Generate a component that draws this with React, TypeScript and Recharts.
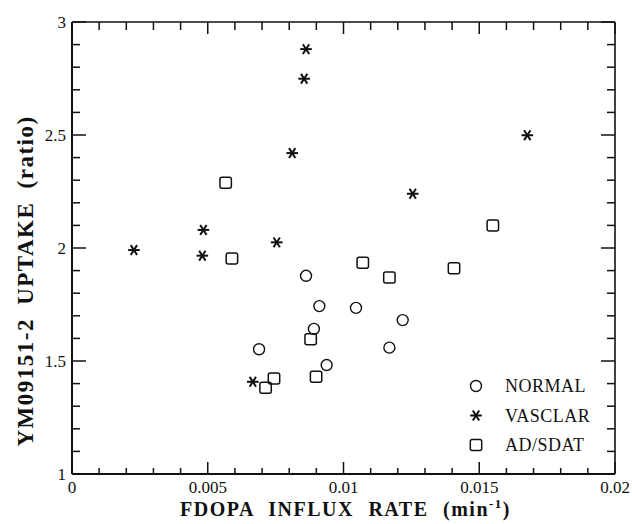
import React from "react";
import { ScatterChart, Scatter, XAxis, YAxis, Legend } from "recharts";

const normalX = [0.00689, 0.00862, 0.00911, 0.00891, 0.00938, 0.01046, 0.01218, 0.01169];
const normalY = [1.552, 1.877, 1.743, 1.642, 1.482, 1.735, 1.681, 1.559];

const vascX = [0.00228, 0.00484, 0.0048, 0.00754, 0.00811, 0.00855, 0.00862, 0.01255, 0.01677, 0.00666];
const vascY = [1.991, 2.08, 1.966, 2.025, 2.42, 2.749, 2.88, 2.24, 2.499, 1.408];

const adX = [0.00566, 0.00589, 0.00713, 0.00744, 0.00879, 0.00899, 0.01071, 0.01169, 0.01407, 0.0155];
const adY = [2.289, 1.954, 1.382, 1.423, 1.596, 1.43, 1.935, 1.869, 1.91, 2.1];

const xDomain = [0, 0.02];
const yDomain = [1, 3];
const xTicks = [0, 0.001, 0.002, 0.003, 0.004, 0.005, 0.006, 0.007, 0.008, 0.009, 0.01, 0.011, 0.012, 0.013, 0.014, 0.015, 0.016, 0.017, 0.018, 0.019, 0.02];
const xTickLabels = ["0", "", "", "", "", "0.005", "", "", "", "", "0.01", "", "", "", "", "0.015", "", "", "", "", "0.02"];
const yTicks = [1, 1.1, 1.2, 1.3, 1.4, 1.5, 1.6, 1.7, 1.8, 1.9, 2, 2.1, 2.2, 2.3, 2.4, 2.5, 2.6, 2.7, 2.8, 2.9, 3];
const yTickLabels = ["1", "", "", "", "", "1.5", "", "", "", "", "2", "", "", "", "", "2.5", "", "", "", "", "3"];

const seriesNames = ["NORMAL", "VASCLAR", "AD/SDAT"];

const toPoints = (xs: number[], ys: number[]) => xs.map((x, i) => ({ x, y: ys[i] }));
const normalData = toPoints(normalX, normalY);
const vascData = toPoints(vascX, vascY);
const adData = toPoints(adX, adY);

const FONT = "'Liberation Serif', 'Times New Roman', Times, serif";
const INK = "#111";

const CircleMark = ({ cx, cy }: any) => (
  <circle cx={cx} cy={cy} r={5.5} fill="none" stroke={INK} strokeWidth={1.4} />
);
const SquareMark = ({ cx, cy }: any) => (
  <rect x={cx - 5.7} y={cy - 5.5} width={11.4} height={11} rx={2} fill="none" stroke={INK} strokeWidth={1.5} />
);
const StarMark = ({ cx, cy }: any) => {
  const a = 5.8;
  const dx = a * 0.55;
  const dy = a * 0.85;
  return (
    <g stroke={INK} strokeWidth={2} strokeLinecap="butt">
      <line x1={cx - a} y1={cy} x2={cx + a} y2={cy} />
      <line x1={cx - dx} y1={cy - dy} x2={cx + dx} y2={cy + dy} />
      <line x1={cx - dx} y1={cy + dy} x2={cx + dx} y2={cy - dy} />
    </g>
  );
};

const labelFor = (ticks: number[], labels: string[], v: number) => {
  const i = ticks.findIndex((t) => Math.abs(t - v) < 1e-9);
  return i >= 0 ? labels[i] : "";
};

const renderBottomTick = (p: any) => {
  const x = Number(p.x);
  const y = Number(p.y);
  const lab = labelFor(xTicks, xTickLabels, p.payload.value);
  const len = lab ? 12 : 6;
  return (
    <g key={`b${p.index}`}>
      <line x1={x} y1={y} x2={x} y2={y - len} stroke={INK} strokeWidth={1.5} />
      {lab && (
        <text x={x} y={y + 19} textAnchor="middle" fontFamily={FONT} fontSize={17} fill={INK}>
          {lab}
        </text>
      )}
    </g>
  );
};
const renderTopTick = (p: any) => {
  const x = Number(p.x);
  const y = Number(p.y);
  const len = labelFor(xTicks, xTickLabels, p.payload.value) ? 12 : 8;
  return <line key={`t${p.index}`} x1={x} y1={y} x2={x} y2={y + len} stroke={INK} strokeWidth={1.5} />;
};
const renderLeftTick = (p: any) => {
  const x = Number(p.x);
  const y = Number(p.y);
  const lab = labelFor(yTicks, yTickLabels, p.payload.value);
  const len = lab ? 14 : 8;
  return (
    <g key={`l${p.index}`}>
      <line x1={x} y1={y} x2={x + len} y2={y} stroke={INK} strokeWidth={1.5} />
      {lab && (
        <text x={x - 6} y={y} dy="0.35em" textAnchor="end" fontFamily={FONT} fontSize={17} fill={INK}>
          {lab}
        </text>
      )}
    </g>
  );
};
const renderRightTick = (p: any) => {
  const x = Number(p.x);
  const y = Number(p.y);
  const len = labelFor(yTicks, yTickLabels, p.payload.value) ? 14 : 8;
  return <line key={`r${p.index}`} x1={x} y1={y} x2={x - len} y2={y} stroke={INK} strokeWidth={1.5} />;
};

const XTitle = ({ viewBox }: any) => {
  const cx = Number(viewBox.x) + Number(viewBox.width) / 2 + 2;
  const by = Number(viewBox.y) + 42;
  return (
    <text x={cx} y={by} textAnchor="middle" fontFamily={FONT} fontSize={20} fontWeight="bold" fill={INK} letterSpacing={1.5} wordSpacing={8}>
      FDOPA INFLUX RATE (min
      <tspan dy={-8} fontSize={13}>-1</tspan>
      <tspan dy={8}>)</tspan>
    </text>
  );
};
const YTitle = ({ viewBox }: any) => {
  const bx = 33;
  const cy = Number(viewBox.y) + 259;
  return (
    <text x={bx} y={cy} transform={`rotate(-90 ${bx} ${cy})`} textAnchor="middle" fontFamily={FONT} fontSize={23} fontWeight="bold" fill={INK} letterSpacing={1.5} wordSpacing={6}>
      YM09151-2 UPTAKE (ratio)
    </text>
  );
};

const LegendBox = () => {
  const rows = [0, 29.5, 59];
  const marks = [CircleMark, StarMark, SquareMark];
  return (
    <svg width={130} height={90} style={{ display: "block" }}>
      {seriesNames.map((n, i) => {
        const M = marks[i];
        return (
          <g key={n}>
            <M cx={16} cy={21 + rows[i]} />
            <text x={45} y={21 + rows[i]} dy="0.35em" fontFamily={FONT} fontSize={18} fill={INK} letterSpacing={0.5}>
              {n}
            </text>
          </g>
        );
      })}
    </svg>
  );
};

export default function App() {
  return (
    <div style={{ position: "absolute", left: 0, top: 0, width: 632, height: 524 }}>
      <ScatterChart width={632} height={524} margin={{ top: 0, right: 0, bottom: 0, left: 0 }}>
        <XAxis
          xAxisId={0}
          type="number"
          dataKey="x"
          domain={xDomain}
          allowDataOverflow
          ticks={xTicks}
          interval={0}
          orientation="bottom"
          height={50}
          tickSize={0}
          tickMargin={0}
          tickLine={false}
          stroke={INK}
          axisLine={{ stroke: INK, strokeWidth: 2 }}
          tick={renderBottomTick}
          label={<XTitle />}
        />
        <XAxis
          xAxisId="top"
          type="number"
          dataKey="x"
          domain={xDomain}
          allowDataOverflow
          ticks={xTicks}
          interval={0}
          orientation="top"
          height={22}
          tickSize={0}
          tickMargin={0}
          tickLine={false}
          stroke={INK}
          axisLine={{ stroke: INK, strokeWidth: 1.6 }}
          tick={renderTopTick}
        />
        <YAxis
          yAxisId={0}
          type="number"
          dataKey="y"
          domain={yDomain}
          allowDataOverflow
          ticks={yTicks}
          interval={0}
          orientation="left"
          width={72}
          tickSize={0}
          tickMargin={0}
          tickLine={false}
          stroke={INK}
          axisLine={{ stroke: INK, strokeWidth: 2 }}
          tick={renderLeftTick}
          label={<YTitle />}
        />
        <YAxis
          yAxisId="right"
          type="number"
          dataKey="y"
          domain={yDomain}
          allowDataOverflow
          ticks={yTicks}
          interval={0}
          orientation="right"
          width={17}
          tickSize={0}
          tickMargin={0}
          tickLine={false}
          stroke={INK}
          axisLine={{ stroke: INK, strokeWidth: 1.6 }}
          tick={renderRightTick}
        />
        <Scatter name={seriesNames[0]} data={normalData} shape={<CircleMark />} isAnimationActive={false} />
        <Scatter name={seriesNames[1]} data={vascData} shape={<StarMark />} isAnimationActive={false} />
        <Scatter name={seriesNames[2]} data={adData} shape={<SquareMark />} isAnimationActive={false} />
        <Scatter data={normalData} xAxisId="top" yAxisId="right" isAnimationActive={false} legendType="none" shape={() => <g />} />
        <Legend
          layout="horizontal"
          verticalAlign="middle"
          align="center"
          content={<LegendBox />}
          wrapperStyle={{ position: "absolute", left: 460, top: 365, width: 130, height: 90 }}
        />
      </ScatterChart>
    </div>
  );
}
